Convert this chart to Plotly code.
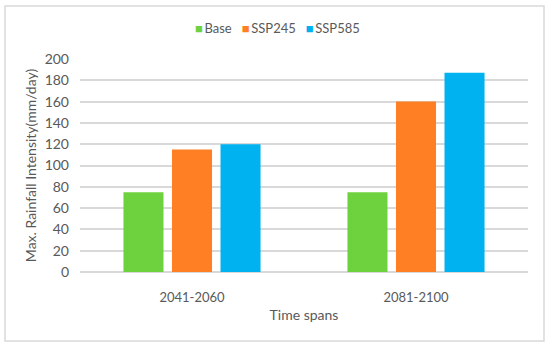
import plotly.graph_objects as go

categories = ["2041-2060", "2081-2100"]
series_names = ["Base", "SSP245", "SSP585"]
base_vals = [75, 75]
ssp245_vals = [115, 160]
ssp585_vals = [120, 187]
colors = ["#6ED23F", "#FF7F24", "#00B2F0"]
y_ticks = [0, 20, 40, 60, 80, 100, 120, 140, 160, 180, 200]

font_family = "Lato, 'Open Sans', sans-serif"
text_color = "#595959"

fig = go.Figure()
for name, vals, col in zip(series_names, [base_vals, ssp245_vals, ssp585_vals], colors):
    fig.add_trace(go.Bar(x=categories, y=vals, name=name, marker=dict(color=col, line=dict(width=0)),
                         showlegend=False))

L, R, T, B = 80, 22, 59, 75
W, H = 550, 347
pw, ph = W - L - R, H - T - B

def px_x(x):
    return (x - L) / pw

def px_y(y):
    return (H - B - y) / ph

fig.add_shape(type="rect", xref="paper", yref="paper",
              x0=px_x(5), x1=px_x(544), y0=px_y(341), y1=px_y(6),
              line=dict(color="#D9D9D9", width=1.5), fillcolor="rgba(0,0,0,0)", layer="below")

# compact legend as text (legend entries from series names / colours)
legend_text = "&nbsp;&nbsp;&nbsp;".join(
    f"<span style='color:{c}'>■</span>&#8201;{n}" for n, c in zip(series_names, colors)
)
fig.add_annotation(text=legend_text, xref="paper", yref="paper", x=px_x(277), y=px_y(28),
                   xanchor="center", yanchor="middle", showarrow=False,
                   font=dict(size=13, color=text_color, family=font_family))

fig.update_layout(
    width=W, height=H,
    margin=dict(l=L, r=R, t=T, b=B),
    paper_bgcolor="white", plot_bgcolor="white",
    barmode="group", bargap=0.35, bargroupgap=0.175,
    font=dict(family=font_family, color=text_color, size=12),
    showlegend=False,
    xaxis=dict(title=dict(text="Time spans", font=dict(size=14, color=text_color), standoff=6),
               showgrid=False, showline=False, ticks="", ticklabelstandoff=16,
               tickfont=dict(size=13, color=text_color)),
    yaxis=dict(title=dict(text="Max. Rainfall Intensity(mm/day)", font=dict(size=14, color=text_color), standoff=4),
               range=[0, 200], tickvals=y_ticks, showgrid=True, gridcolor="#D9D9D9", gridwidth=1.5,
               zeroline=True, zerolinecolor="#D9D9D9", zerolinewidth=1.5, showline=False, ticks="",
               ticklabelstandoff=10, tickfont=dict(size=14, color=text_color)),
)

fig.write_html("out.html", config={"responsive": False, "displayModeBar": False},
               post_script="document.body.style.margin='0';document.body.style.overflow='hidden';")
